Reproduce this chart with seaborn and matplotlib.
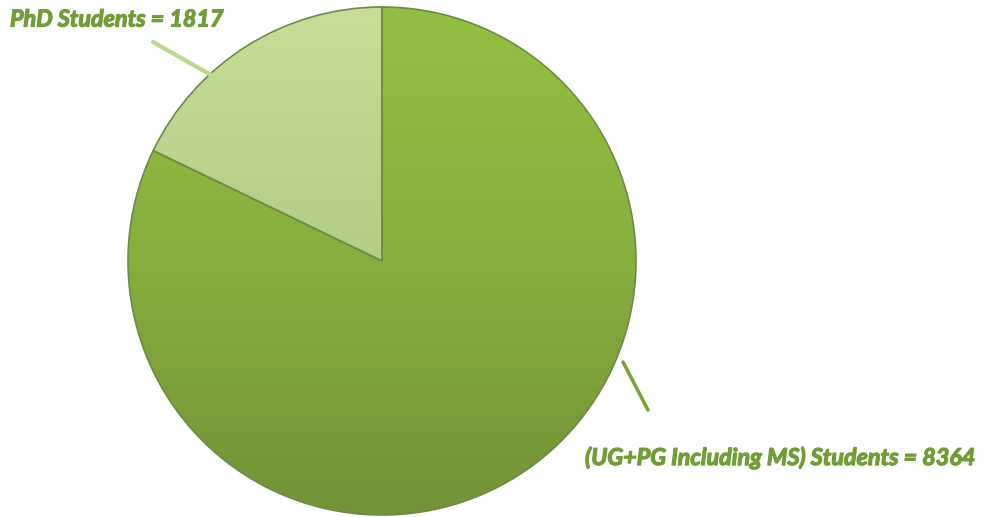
import numpy as np
import matplotlib
matplotlib.use("Agg")
import matplotlib.pyplot as plt
import matplotlib.patheffects as pe
from matplotlib.colors import LinearSegmentedColormap
import seaborn as sns

# Student enrolment split
categories = ["PhD Students", "(UG+PG Including MS) Students"]
counts = [1817, 8364]
labels = [f"{c} = {v}" for c, v in zip(categories, counts)]

sns.set_theme(style="white")
plt.rcParams["font.family"] = ["Lato", "DejaVu Sans"]

W, H = 986, 517
fig = plt.figure(figsize=(W / 100, H / 100), dpi=100)
ax = fig.add_axes([0, 0, 1, 1])

cx, cy, r = 382, 256, 254
wedges, _ = ax.pie(counts, startangle=90, counterclock=True,
                   center=(cx, cy), radius=r, frame=True,
                   wedgeprops=dict(linewidth=1.2, edgecolor="#6e8a45"))
ax.set_xlim(0, W)
ax.set_ylim(0, H)
ax.set_aspect("equal")
ax.axis("off")

# vertical shading for each slice (light at the top, darker below)
grads = [
    ["#c6de98", "#b3cd86", "#9cae73"],
    ["#93c042", "#86af3d", "#729337"],
]
for w, cols in zip(wedges, grads):
    cmap = LinearSegmentedColormap.from_list("g", cols)
    g = np.linspace(0, 1, 256).reshape(-1, 1)
    im = ax.imshow(g, cmap=cmap, extent=(cx - r, cx + r, cy - r, cy + r),
                   origin="upper", aspect="auto",
                   zorder=w.get_zorder() - 0.5)
    im.set_clip_path(w)
    w.set_facecolor("none")

text_col = "#719c36"
heavy = [pe.withStroke(linewidth=0.9, foreground=text_col)]
ax.plot([153, 211], [H - 42, H - 75], color="#bcd88f", lw=3,
        solid_capstyle="round")
ax.plot([623, 648], [H - 362, H - 410], color="#7aa23a", lw=2.5,
        solid_capstyle="round")
ax.text(10, H - 20, labels[0], fontsize=16.8, fontweight="bold",
        fontstyle="italic", color=text_col, va="center", ha="left",
        path_effects=heavy)
ax.text(585, H - 458, labels[1], fontsize=16.8, fontweight="bold",
        fontstyle="italic", color=text_col, va="center", ha="left",
        path_effects=heavy)

fig.savefig("out.png", dpi=100)
